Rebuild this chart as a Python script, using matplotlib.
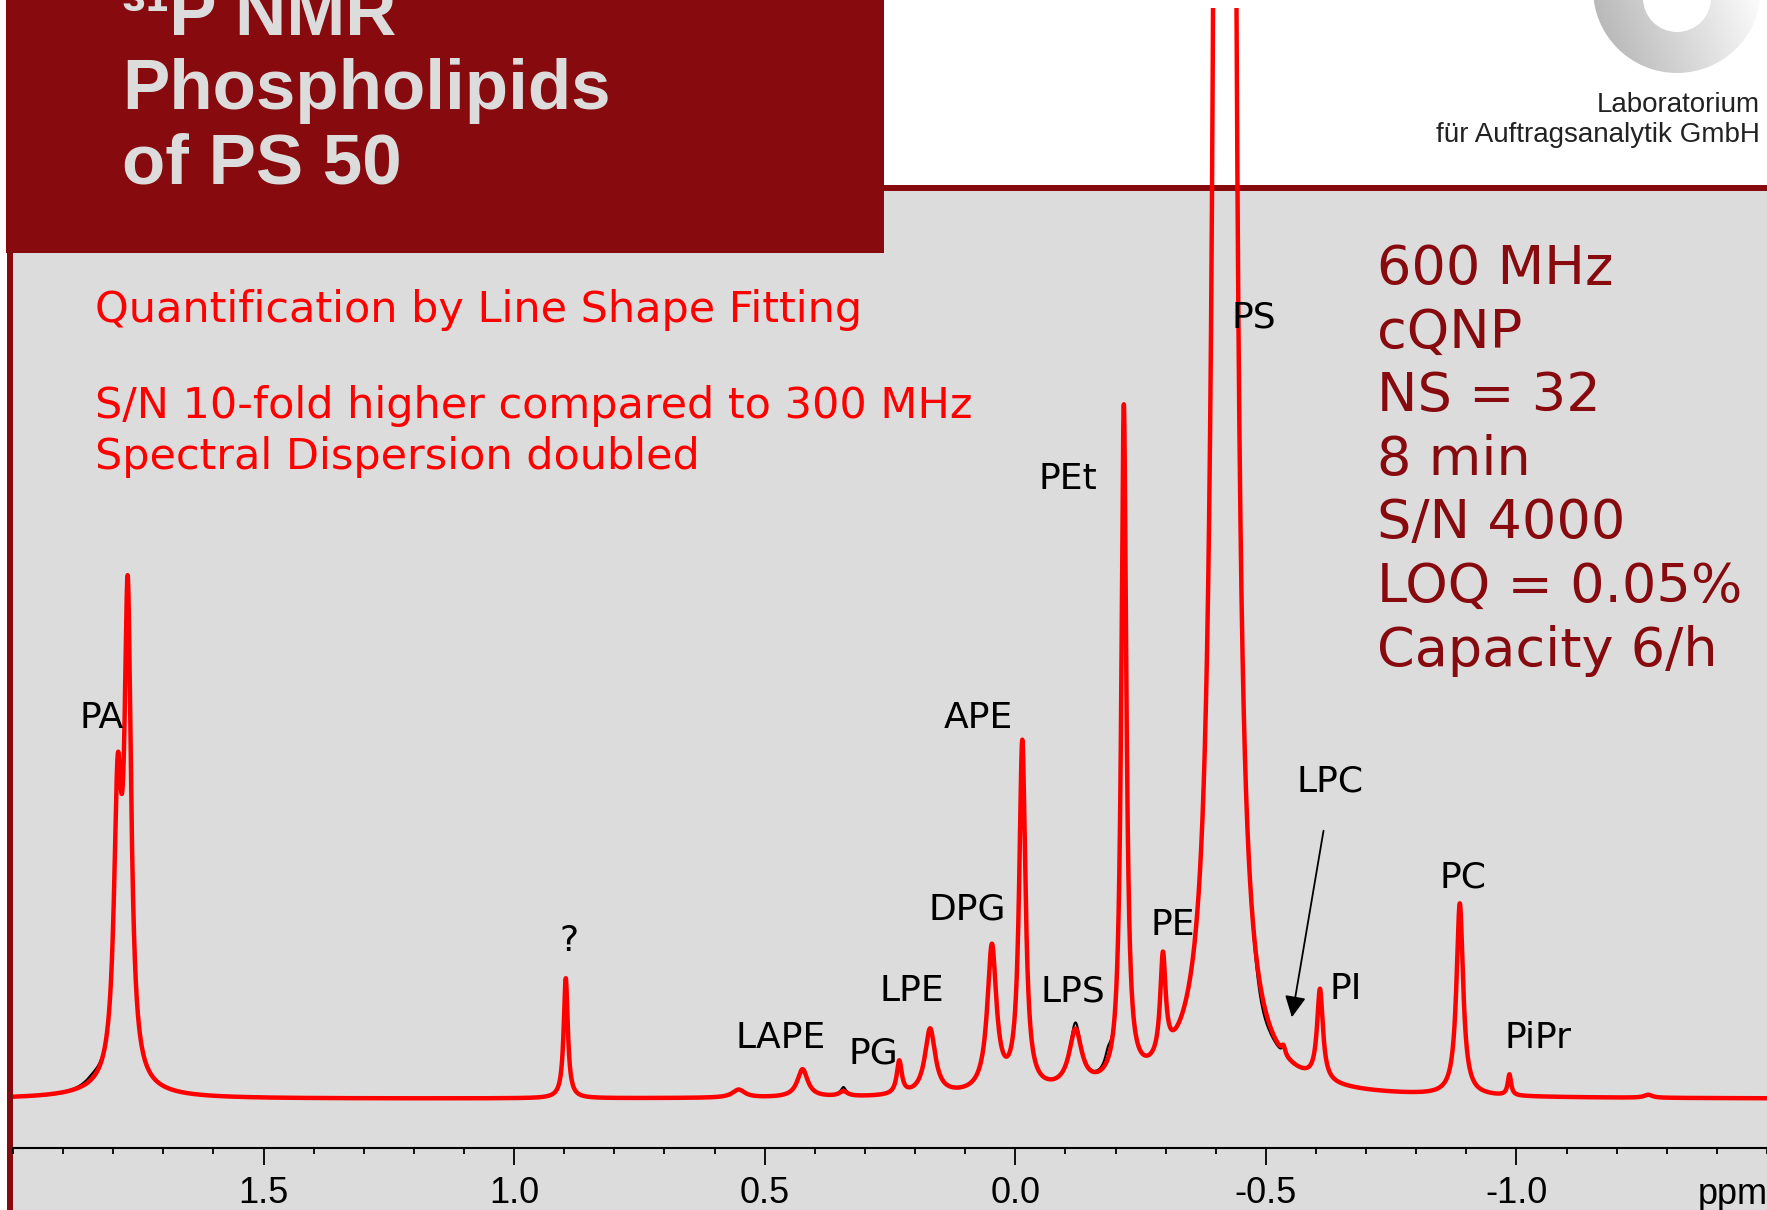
import numpy as np
import matplotlib
matplotlib.use("Agg")
import matplotlib.pyplot as plt
from matplotlib.patches import Rectangle, Wedge, Circle
from matplotlib.ticker import FixedLocator, MultipleLocator

# fitted 31P lines: shift (ppm), height (a.u.), FWHM (ppm)
peak_names = ["PA", "PA", "PA", "?", "", "LAPE", "", "PG", "LPE", "DPG", "APE",
              "LPS", "PEt", "PE", "PS", "PS", "PS", "LPC", "PI", "PC", "PiPr", ""]
peak_ppm = [1.791, 1.771, 1.785, 0.897, 0.552, 0.4245, 0.343, 0.2315, 0.170, 0.0467, -0.014,
            -0.120, -0.2166, -0.2946, -0.412, -0.424, -0.42, -0.535, -0.608, -0.887, -0.986, -1.263]
peak_height = [270, 468, 10, 120, 8, 28, 5, 33, 66, 145, 348,
               57, 675, 102, 15800, 15800, 12, 8, 91, 192, 21, 3]
peak_fwhm = [0.018, 0.016, 0.15, 0.010, 0.03, 0.025, 0.02, 0.012, 0.025, 0.022, 0.015,
             0.03, 0.012, 0.013, 0.008, 0.008, 0.30, 0.008, 0.014, 0.016, 0.008, 0.02]

# measured minus fit
resid_ppm = [1.84, 0.343, -0.12, -0.185, -0.49]
resid_height = [5, 4, 6, 12, -12]
resid_fwhm = [0.04, 0.01, 0.02, 0.015, 0.04]

tick_values = [1.5, 1.0, 0.5, 0.0, -0.5, -1.0]
tick_labels = ["1.5", "1.0", "0.5", "0.0", "-0.5", "-1.0"]

title_lines = ["³¹P NMR", "Phospholipids", "of PS 50"]
note_lines = ["Quantification by Line Shape Fitting", "S/N 10-fold higher compared to 300 MHz",
              "Spectral Dispersion doubled"]
spec_lines = ["600 MHz", "cQNP", "NS = 32", "8 min", "S/N 4000", "LOQ = 0.05%", "Capacity 6/h"]

# label name -> (ppm, height) where its centre sits
label_pos = {"PA": (1.824, 381), "?": (0.8905, 158), "LAPE": (0.4675, 61), "PG": (0.284, 45),
             "LPE": (0.206, 108), "DPG": (0.0964, 190), "APE": (0.0745, 381), "LPS": (-0.115, 108),
             "PEt": (-0.105, 620), "PE": (-0.315, 174), "PS": (-0.476, 781), "LPC": (-0.628, 318),
             "PI": (-0.659, 110), "PC": (-0.893, 221), "PiPr": (-1.043, 61)}

W, H = 1767, 1210
DARK = "#870a0e"
GRAY = "#dcdcdc"


def lorentz_sum(x, pos, height, fwhm):
    y = np.zeros_like(x)
    for p, h, w in zip(pos, height, fwhm):
        y += h / (1.0 + (2.0 * (x - p) / w) ** 2)
    return y


fig = plt.figure(figsize=(W / 100, H / 100), dpi=100, facecolor="white")

# slide background, drawn in pixel coordinates
bg = fig.add_axes([0, 0, 1, 1], zorder=0)
bg.set_xlim(0, W)
bg.set_ylim(H, 0)
bg.axis("off")
bg.add_patch(Rectangle((13, 191), W - 13, H - 191, color=GRAY, lw=0))
bg.add_patch(Rectangle((884, 185), W - 884, 6, color=DARK, lw=0))
bg.add_patch(Rectangle((6, 0), 878, 253, color=DARK, lw=0))
bg.add_patch(Rectangle((7, 253), 6, H - 253, color=DARK, lw=0))

for i, line in enumerate(title_lines):
    bg.text(122, 35 + 74 * i, line, color=GRAY, fontsize=51, fontweight="bold",
            family="Liberation Sans", va="baseline", ha="left")

# logo swoosh with a grey gradient
gx, gy = np.meshgrid(np.linspace(0, 1, 200), np.linspace(0, 1, 100))
grad = 0.68 + 0.27 * gx + 0.05 * (1 - gy)
ring = Wedge((1677, -11), 84, 0, 180, facecolor="none", edgecolor="none")
bg.add_patch(ring)
im = bg.imshow(grad, cmap="gray", vmin=0, vmax=1, extent=(1590, 1765, 76, -15),
               interpolation="bilinear", zorder=1)
im.set_clip_path(ring)
bg.add_patch(Circle((1677, -2), 34, color="white", lw=0, zorder=2))
bg.set_aspect("auto")
bg.set_xlim(0, W)
bg.set_ylim(H, 0)

bg.text(1760, 112, "Laboratorium", fontsize=20, family="Liberation Sans", color="#222222",
        ha="right", va="baseline")
bg.text(1760, 142, "für Auftragsanalytik GmbH", fontsize=20, family="Liberation Sans",
        color="#222222", ha="right", va="baseline")

for txt, yb in zip(note_lines, [322, 418, 469]):
    bg.text(95, yb, txt, fontsize=31, family="DejaVu Sans", color="#ff0000", va="baseline")

for i, txt in enumerate(spec_lines):
    bg.text(1377, 284 + 63.6 * i, txt, fontsize=39, family="DejaVu Sans", color=DARK,
            va="baseline")

bg.text(1733, 1195, "ppm", fontsize=26, family=["Liberation Sans Narrow", "Liberation Sans"],
        ha="center", va="center")

# spectrum
ax = fig.add_axes([13 / W, (H - 1148) / H, 1 - 13 / W, 1140 / H], zorder=1)
ax.patch.set_alpha(0)
x = np.linspace(2.0, -1.5, 40000)
fit = lorentz_sum(x, peak_ppm, peak_height, peak_fwhm)
measured = fit + lorentz_sum(x, resid_ppm, resid_height, resid_fwhm)
ax.plot(x, measured, color="black", lw=1.5, zorder=2)
ax.plot(x, fit, color="#ff0000", lw=3.2, zorder=3)
ax.set_xlim(2.0, -1.5)
ax.set_ylim(-49, 1091)

for s in ["top", "left", "right"]:
    ax.spines[s].set_visible(False)
ax.spines["bottom"].set_linewidth(1.5)
ax.xaxis.set_major_locator(FixedLocator(tick_values))
ax.set_xticklabels(tick_labels)
ax.xaxis.set_minor_locator(MultipleLocator(0.1))
ax.tick_params(axis="x", which="major", length=12, width=1.3, pad=8, labelsize=26)
ax.tick_params(axis="x", which="minor", length=4.5, width=1.3)
ax.tick_params(axis="y", left=False, labelleft=False)
for lab in ax.get_xticklabels():
    lab.set_family(["Liberation Sans Narrow", "Liberation Sans"])

for name, (px, py) in label_pos.items():
    ax.text(px, py, name, fontsize=26, family="DejaVu Sans", ha="center", va="center", zorder=4)

ax.annotate("", xy=(-0.551, 79), xytext=(-0.616, 271),
            arrowprops=dict(arrowstyle="-|>", mutation_scale=32, lw=1.3, color="black"))

fig.savefig("out.png", dpi=100, facecolor="white")
